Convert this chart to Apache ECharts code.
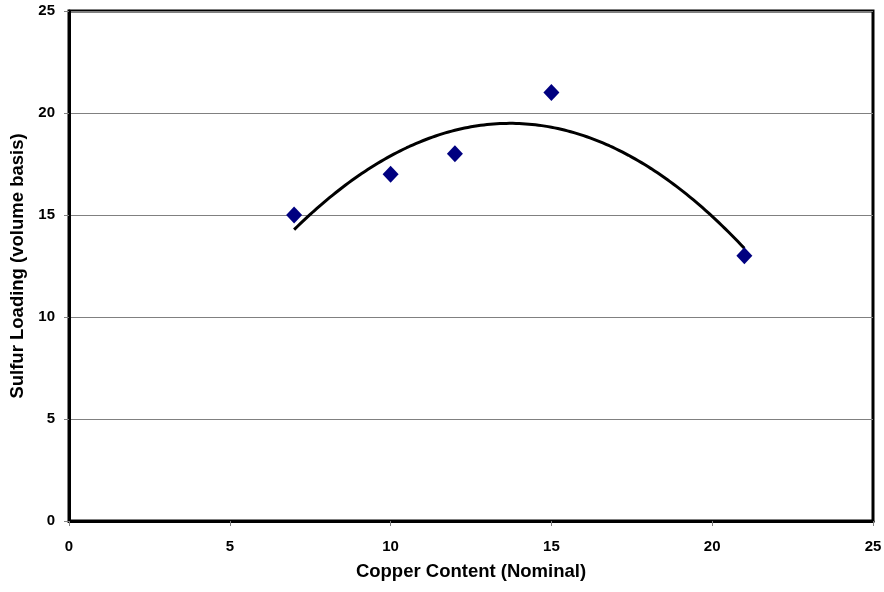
<!DOCTYPE html>
<html>
<head>
<meta charset="utf-8">
<script src="https://cdn.jsdelivr.net/npm/echarts@6/dist/echarts.min.js"></script>
<style>
  html, body { margin: 0; padding: 0; background: #fff; }
  #chart { width: 884px; height: 592px; }
</style>
</head>
<body>
<div id="chart"></div>
<script>
// Measured samples: copper content vs. sulfur loading
const copperContent = [7, 10, 12, 15, 21];
const sulfurLoading = [15, 17, 18, 21, 13];

// Axis ranges and tick step
const xMin = 0, xMax = 25, yMin = 0, yMax = 25, tickStep = 5;

// Second-order least-squares trendline fitted to the samples
function quadraticFit(xs, ys) {
  const n = xs.length;
  let s = [0, 0, 0, 0, 0], t = [0, 0, 0];
  for (let i = 0; i < n; i++) {
    let p = 1;
    for (let k = 0; k <= 4; k++) { s[k] += p; if (k <= 2) t[k] += p * ys[i]; p *= xs[i]; }
  }
  // Solve normal equations via Cramer's rule
  const M = [[s[0], s[1], s[2]], [s[1], s[2], s[3]], [s[2], s[3], s[4]]];
  const det3 = m => m[0][0]*(m[1][1]*m[2][2]-m[1][2]*m[2][1]) - m[0][1]*(m[1][0]*m[2][2]-m[1][2]*m[2][0]) + m[0][2]*(m[1][0]*m[2][1]-m[1][1]*m[2][0]);
  const D = det3(M);
  const coef = [0, 1, 2].map(c => det3(M.map((row, r) => row.map((v, j) => j === c ? t[r] : v))) / D);
  return coef; // [a0, a1, a2]
}
const [c0, c1, c2] = quadraticFit(copperContent, sulfurLoading);
const xLo = Math.min(...copperContent), xHi = Math.max(...copperContent);
const trendPoints = [];
for (let i = 0; i <= 140; i++) {
  const x = xLo + (xHi - xLo) * i / 140;
  trendPoints.push([x, c0 + c1 * x + c2 * x * x]);
}

const chart = echarts.init(document.getElementById('chart'));
const fontFamily = 'Liberation Sans, Arial, sans-serif';
const labelFont = { fontFamily, fontWeight: 'bold', fontSize: 15, color: '#000' };
const titleFont = { fontFamily, fontWeight: 'bold', fontSize: 18.5, color: '#000' };
chart.setOption({
  animation: false,
  grid: {
    left: 69, top: 11, width: 804, height: 510,
    containLabel: false, outerBoundsMode: 'none',
    show: true, borderColor: '#000', borderWidth: 3, backgroundColor: '#fff'
  },
  xAxis: {
    type: 'value', min: xMin, max: xMax, interval: tickStep,
    name: 'Copper Content (Nominal)', nameLocation: 'middle', nameGap: 41,
    nameTextStyle: titleFont,
    axisLine: { show: true, lineStyle: { color: '#000', width: 3 } },
    axisTick: { show: true, inside: false, length: 5, lineStyle: { color: '#808080', width: 1 } },
    axisLabel: Object.assign({ margin: 18 }, labelFont),
    splitLine: { show: false }
  },
  yAxis: {
    type: 'value', min: yMin, max: yMax, interval: tickStep,
    name: 'Sulfur Loading (volume basis)', nameLocation: 'middle', nameGap: 40,
    nameTextStyle: titleFont,
    axisLine: { show: true, lineStyle: { color: '#000', width: 3 } },
    axisTick: { show: true, inside: false, length: 5, lineStyle: { color: '#808080', width: 1 } },
    axisLabel: Object.assign({ margin: 14 }, labelFont),
    splitLine: { show: true, lineStyle: { color: '#808080', width: 1 } }
  },
  series: [
    {
      type: 'line',
      data: trendPoints,
      showSymbol: false,
      smooth: false,
      lineStyle: { color: '#000', width: 3 },
      z: 2
    },
    {
      type: 'scatter',
      data: copperContent.map((x, i) => [x, sulfurLoading[i]]),
      symbol: 'diamond',
      symbolSize: [16, 17],
      itemStyle: { color: '#000080', opacity: 1 },
      z: 3
    }
  ]
});
</script>
</body>
</html>
